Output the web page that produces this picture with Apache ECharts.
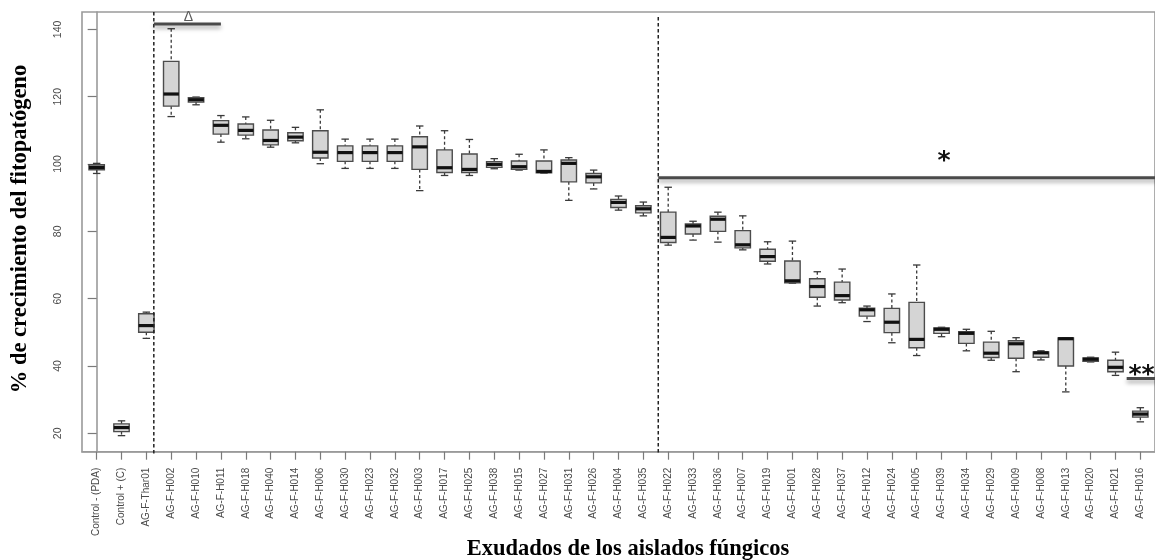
<!DOCTYPE html>
<html>
<head>
<meta charset="utf-8">
<script src="https://cdn.jsdelivr.net/npm/echarts@6/dist/echarts.min.js"></script>
<style>
  html, body { margin: 0; padding: 0; background: #ffffff; }
  #chart { width: 1155px; height: 560px; }
</style>
</head>
<body>
<div id="chart"></div>
<script>
// Fungal exudate isolates, ordered as on the x axis
const categories = [
  'Control - (PDA)', 'Control + (C)', 'AG-F-Thar01',
  'AG-F-H002', 'AG-F-H010', 'AG-F-H011', 'AG-F-H018', 'AG-F-H040', 'AG-F-H014', 'AG-F-H006',
  'AG-F-H030', 'AG-F-H023', 'AG-F-H032', 'AG-F-H003', 'AG-F-H017', 'AG-F-H025', 'AG-F-H038',
  'AG-F-H015', 'AG-F-H027', 'AG-F-H031', 'AG-F-H026', 'AG-F-H004', 'AG-F-H035',
  'AG-F-H022', 'AG-F-H033', 'AG-F-H036', 'AG-F-H007', 'AG-F-H019', 'AG-F-H001', 'AG-F-H028',
  'AG-F-H037', 'AG-F-H012', 'AG-F-H024', 'AG-F-H005', 'AG-F-H039', 'AG-F-H034', 'AG-F-H029',
  'AG-F-H009', 'AG-F-H008', 'AG-F-H013', 'AG-F-H020', 'AG-F-H021', 'AG-F-H016'
];

// Five-number summaries of pathogen growth (%) for each isolate
const whiskerLow = [
  97.2, 19.3, 48.2,
  114.1, 117.6, 106.5, 107.5, 105.0, 106.3, 100.1,
  98.7, 98.7, 98.7, 92.1, 96.6, 96.6, 98.6,
  98.2, 97.3, 89.2, 92.6, 86.3, 84.6,
  75.9, 77.4, 76.8, 74.5, 70.3, 64.6, 57.8,
  58.8, 53.2, 46.9, 43.1, 48.7, 44.5, 41.7,
  38.3, 41.8, 32.3, 41.2, 37.2, 23.4
];
const quartile1 = [
  98.3, 20.5, 50.0,
  117.2, 118.4, 108.9, 108.6, 105.7, 106.9, 101.8,
  100.8, 100.8, 100.8, 98.4, 97.5, 97.5, 99.0,
  98.4, 97.4, 94.7, 94.4, 87.1, 85.5,
  76.7, 79.2, 80.0, 75.1, 71.1, 64.7, 60.4,
  59.6, 54.8, 49.9, 45.4, 49.7, 46.7, 42.5,
  42.3, 42.6, 40.0, 41.4, 38.3, 24.8
];
const medians = [
  99.0, 21.7, 52.0,
  120.8, 119.1, 111.5, 110.0, 107.0, 108.0, 103.5,
  103.4, 103.4, 103.4, 105.1, 98.9, 98.4, 99.9,
  99.2, 97.8, 100.2, 96.2, 88.6, 86.7,
  78.2, 81.6, 83.6, 76.0, 72.5, 65.3, 63.6,
  60.9, 56.7, 53.0, 47.9, 50.9, 49.7, 43.8,
  46.6, 43.9, 48.1, 42.0, 39.6, 25.7
];
const quartile3 = [
  99.8, 22.8, 55.5,
  130.5, 119.7, 112.9, 111.9, 110.1, 109.3, 109.9,
  105.4, 105.4, 105.4, 108.1, 104.2, 103.0, 100.7,
  100.9, 100.9, 101.2, 97.2, 89.5, 87.6,
  85.7, 82.2, 84.5, 80.2, 74.7, 71.2, 65.9,
  64.9, 57.2, 57.1, 58.9, 51.3, 50.2, 47.1,
  47.5, 44.2, 48.3, 42.4, 41.7, 26.6
];
const whiskerHigh = [
  100.2, 23.7, 56.0,
  140.2, 119.9, 114.4, 114.0, 113.0, 110.9, 116.1,
  107.4, 107.4, 107.4, 111.3, 109.9, 107.3, 101.6,
  102.9, 104.2, 101.9, 98.2, 90.5, 88.7,
  93.1, 83.0, 85.7, 84.6, 76.9, 77.1, 68.0,
  68.8, 57.8, 61.4, 70.0, 51.5, 50.9, 50.3,
  48.4, 44.5, 48.3, 42.6, 44.1, 27.6
];

const yTicks = [20, 40, 60, 80, 100, 120, 140];

// Group separators and significance brackets, in axis units
const groupBreaks = [2.3, 22.6];
const deltaBracket = { from: 2.3, to: 5.0, y: 141.6, mark: 'Δ', markX: 3.69, markY: 143.6 };
const starBracket = { from: 22.6, to: 43.2, y: 95.9, mark: '*', markX: 34.1, markY: 100.7 };
const doubleStarBracket = { from: 41.45, to: 43.2, y: 36.3, mark: '**', markX: 41.52, markY: 37.2 };

const boxRows = categories.map((c, i) => [i, whiskerLow[i], quartile1[i], medians[i], quartile3[i], whiskerHigh[i]]);

const GRID = { left: 82, top: 12, width: 1079.5, height: 439.7 };
const X_MIN = -0.59, X_MAX = 42.59;
const Y_MIN = 14.53, Y_MAX = 145.17;

function renderBox(params, api) {
  const i = api.value(0);
  const pLo = api.coord([i, api.value(1)]);
  const pQ1 = api.coord([i, api.value(2)]);
  const pMed = api.coord([i, api.value(3)]);
  const pQ3 = api.coord([i, api.value(4)]);
  const pHi = api.coord([i, api.value(5)]);
  const x = pMed[0];
  const boxW = api.size([0.62, 0])[0];
  const capW = api.size([0.3, 0])[0];
  const whiskerStyle = { stroke: '#3a3a3a', lineWidth: 1.3, lineDash: [3, 2.5] };
  const capStyle = { stroke: '#3a3a3a', lineWidth: 1.3 };
  return {
    type: 'group',
    children: [
      { type: 'line', shape: { x1: x, y1: pHi[1], x2: x, y2: pQ3[1] }, style: whiskerStyle },
      { type: 'line', shape: { x1: x, y1: pQ1[1], x2: x, y2: pLo[1] }, style: whiskerStyle },
      { type: 'line', shape: { x1: x - capW / 2, y1: pHi[1], x2: x + capW / 2, y2: pHi[1] }, style: capStyle },
      { type: 'line', shape: { x1: x - capW / 2, y1: pLo[1], x2: x + capW / 2, y2: pLo[1] }, style: capStyle },
      {
        type: 'rect',
        shape: { x: x - boxW / 2, y: pQ3[1], width: boxW, height: pQ1[1] - pQ3[1] },
        style: { fill: '#d5d5d5', stroke: '#4c4c4c', lineWidth: 1.4 }
      },
      {
        type: 'line',
        shape: { x1: x - boxW / 2, y1: pMed[1], x2: x + boxW / 2, y2: pMed[1] },
        style: { stroke: '#111111', lineWidth: 3.2 }
      }
    ]
  };
}

const chart = echarts.init(document.getElementById('chart'), null, { renderer: 'canvas' });

const option = {
  animation: false,
  backgroundColor: '#ffffff',
  grid: {
    left: GRID.left, top: GRID.top, width: GRID.width, height: GRID.height,
    show: true, borderColor: '#9a9a9a', borderWidth: 1.6, backgroundColor: 'transparent'
  },
  xAxis: {
    type: 'value',
    min: X_MIN, max: X_MAX,
    axisLine: { show: true, lineStyle: { color: '#9a9a9a', width: 1.6 } },
    axisTick: {
      show: true, length: 8, customValues: categories.map((c, i) => i),
      lineStyle: { color: '#7a7a7a', width: 1.2 }
    },
    axisLabel: {
      show: true, rotate: 90, margin: 16, fontSize: 10,
      fontFamily: 'Liberation Sans', color: '#4a4a4a',
      customValues: categories.map((c, i) => i),
      formatter: (v) => categories[Math.round(v)]
    },
    splitLine: { show: false }
  },
  yAxis: {
    type: 'value',
    min: Y_MIN, max: Y_MAX,
    axisLine: { show: true, lineStyle: { color: '#9a9a9a', width: 1.6 } },
    axisTick: { show: true, length: 9, customValues: yTicks, lineStyle: { color: '#7a7a7a', width: 1.2 } },
    axisLabel: {
      show: true, rotate: 90, margin: 18, fontSize: 10.5,
      fontFamily: 'Liberation Sans', color: '#4a4a4a',
      customValues: yTicks
    },
    splitLine: { show: false }
  },
  series: [{
    type: 'custom',
    renderItem: renderBox,
    encode: { x: 0, y: [1, 2, 3, 4, 5] },
    data: boxRows,
    clip: false
  }]
};

chart.setOption(option);

// Titles, separators and significance brackets placed through the axes
const toPx = (x, y) => chart.convertToPixel({ gridIndex: 0 }, [x, y]);
const graphics = [];

groupBreaks.forEach((bx, k) => {
  const top = toPx(bx, k === 0 ? Y_MAX : 143.7);
  const bottom = toPx(bx, Y_MIN - 1);
  graphics.push({
    type: 'line', z: 10,
    shape: { x1: top[0], y1: top[1], x2: bottom[0], y2: bottom[1] },
    style: { stroke: '#222222', lineWidth: 1.5, lineDash: [3.5, 2.5] }
  });
});

[deltaBracket, starBracket, doubleStarBracket].forEach((b) => {
  const a = toPx(b.from, b.y);
  const e = toPx(b.to, b.y);
  graphics.push({
    type: 'line', z: 11,
    shape: { x1: a[0], y1: a[1], x2: e[0], y2: e[1] },
    style: {
      stroke: '#4a4a4a', lineWidth: 3,
      shadowColor: 'rgba(0,0,0,0.35)', shadowBlur: 4, shadowOffsetY: 3
    }
  });
});

const dPos = toPx(deltaBracket.markX, deltaBracket.markY);
graphics.push({
  type: 'text', z: 13, x: dPos[0], y: dPos[1],
  style: {
    text: deltaBracket.mark, font: '14px "Liberation Sans"', fill: '#5a5a5a',
    align: 'center', verticalAlign: 'middle'
  }
});
const sPos = toPx(starBracket.markX, starBracket.markY);
graphics.push({
  type: 'text', z: 12, x: sPos[0], y: sPos[1],
  style: {
    text: starBracket.mark, font: 'bold 25px "DejaVu Sans"', fill: '#111111',
    align: 'center', verticalAlign: 'middle'
  }
});
const ssPos = toPx(doubleStarBracket.markX, doubleStarBracket.markY);
graphics.push({
  type: 'text', z: 12, x: ssPos[0], y: ssPos[1],
  style: {
    text: doubleStarBracket.mark, font: 'bold 25px "DejaVu Sans"', fill: '#111111',
    align: 'left', verticalAlign: 'middle'
  }
});

graphics.push({
  type: 'text', z: 12, x: 20, y: 229, rotation: Math.PI / 2,
  style: {
    text: '% de crecimiento del fitopatógeno',
    font: 'bold 22.5px "Liberation Serif"', fill: '#000000',
    align: 'center', verticalAlign: 'middle'
  }
});
graphics.push({
  type: 'text', z: 12, x: 628, y: 549,
  style: {
    text: 'Exudados de los aislados fúngicos',
    font: 'bold 22.5px "Liberation Serif"', fill: '#000000',
    align: 'center', verticalAlign: 'middle'
  }
});

chart.setOption({ graphic: graphics });
</script>
</body>
</html>
